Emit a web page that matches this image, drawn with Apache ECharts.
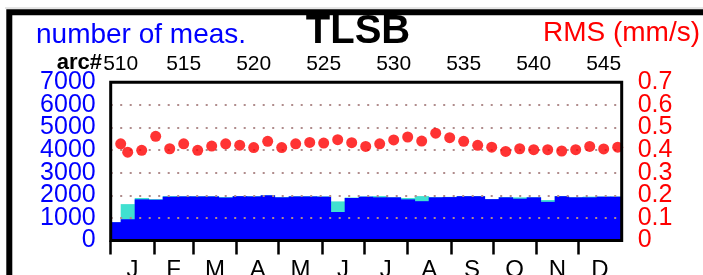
<!DOCTYPE html>
<html>
<head>
<meta charset="utf-8">
<script src="https://cdn.jsdelivr.net/npm/echarts@6/dist/echarts.min.js"></script>
<style>
html, body { margin: 0; padding: 0; background: #fff; }
#chart { width: 703px; height: 275px; }
</style>
</head>
<body>
<div id="chart"></div>
<script>
// arcs (top axis) and number of measurements per arc
var barArcs = [510, 511, 512, 513, 514, 515, 516, 517, 518, 519,
               520, 521, 522, 523, 524, 525, 526, 527, 528, 529,
               530, 531, 532, 533, 534, 535, 536, 537, 538, 539,
               540, 541, 542, 543, 544, 545, 546];
var measTotal = [810, 1610, 1880, 1830, 1965, 1960, 1960, 1960, 1920, 1970,
                 1960, 2005, 1920, 1960, 1960, 1950, 1730, 1900, 1950, 1965,
                 1915, 1880, 1965, 1920, 1930, 1965, 1965, 1835, 1920, 1910,
                 1915, 1790, 1965, 1915, 1940, 1945, 1945];
var measUsed = [810, 940, 1820, 1805, 1940, 1950, 1950, 1950, 1900, 1960,
                1950, 2000, 1910, 1950, 1950, 1940, 1260, 1880, 1940, 1910,
                1910, 1820, 1740, 1910, 1920, 1960, 1960, 1830, 1910, 1850,
                1910, 1710, 1960, 1910, 1910, 1940, 1940];

// RMS (mm/s) per arc
var rmsArcs = [510.5, 511, 512, 513, 514, 515, 516, 517, 518, 519,
               520, 521, 522, 523, 524, 525, 526, 527, 528, 529,
               530, 531, 532, 533, 534, 535, 536, 537, 538, 539,
               540, 541, 542, 543, 544, 545, 546];
var rmsValues = [0.428, 0.391, 0.399, 0.461, 0.406, 0.428, 0.399, 0.418, 0.428, 0.422,
                 0.411, 0.439, 0.411, 0.428, 0.434, 0.431, 0.446, 0.433, 0.416, 0.428,
                 0.445, 0.458, 0.440, 0.475, 0.455, 0.439, 0.421, 0.413, 0.394, 0.406,
                 0.402, 0.402, 0.396, 0.402, 0.416, 0.405, 0.413];

// axes
var arcTicks = [510.5, 515, 520, 525, 530, 535, 540, 545];
var countTicks = [0, 1000, 2000, 3000, 4000, 5000, 6000, 7000];
var rmsTicks = [0, 0.1, 0.2, 0.3, 0.4, 0.5, 0.6, 0.7];
var monthNames = ['J', 'F', 'M', 'A', 'M', 'J', 'J', 'A', 'S', 'O', 'N', 'D'];
var monthStart = [0, 31, 59, 90, 120, 151, 181, 212, 243, 273, 304, 334, 365];

var monthMid = [];
for (var i = 0; i < 12; i++) {
    monthMid[i] = (monthStart[i] + monthStart[i + 1]) / 2;
}

var totalData = [], usedData = [], rmsData = [];
for (var i = 0; i < barArcs.length; i++) {
    totalData.push([barArcs[i], measTotal[i]]);
    usedData.push([barArcs[i], measUsed[i]]);
}
for (var i = 0; i < rmsArcs.length; i++) {
    rmsData.push([rmsArcs[i], rmsValues[i]]);
}

// labels are tall: split each side's labels over two axes so echarts does not drop any
function evenOf(arr) { return arr.filter(function (v, k) { return k % 2 === 0; }); }
function oddOf(arr) { return arr.filter(function (v, k) { return k % 2 === 1; }); }

// one bar per arc, one arc wide, cut at the plot edges
function stepBar(color) {
    return function (params, api) {
        var p0 = api.coord([api.value(0) - 0.5, api.value(1)]);
        var p1 = api.coord([api.value(0) + 0.5, 0]);
        var rect = echarts.graphic.clipRectByRect({
            x: p0[0], y: p0[1], width: p1[0] - p0[0] + 0.4, height: p1[1] - p0[1]
        }, {
            x: params.coordSys.x, y: params.coordSys.y,
            width: params.coordSys.width, height: params.coordSys.height
        });
        return rect && { type: 'rect', shape: rect, style: { fill: color } };
    };
}

var font = 'Liberation Sans, Arial, sans-serif';

function countAxis(labels) {
    return {
        type: 'value', position: 'left', min: 0, max: 7000, interval: 1000,
        axisLine: { show: false },
        axisTick: { show: false },
        splitLine: { show: false },
        axisLabel: {
            customValues: labels,
            color: '#0000ff', fontSize: 25, fontFamily: font, margin: 15,
            showMinLabel: true, showMaxLabel: true, hideOverlap: false,
            formatter: function (v) { return String(v); }
        }
    };
}

function rmsAxis(labels, grid) {
    return {
        type: 'value', position: 'right', min: 0, max: 0.7, interval: 0.1, z: 3,
        axisLine: { show: false },
        axisTick: { show: false },
        splitLine: {
            show: grid, showMinLine: false, showMaxLine: false,
            lineStyle: { color: '#b08c8c', width: 2, type: [2, 7.5] }
        },
        axisLabel: {
            customValues: labels,
            color: '#ff0000', fontSize: 25, fontFamily: font, margin: 16,
            showMinLabel: true, showMaxLabel: true, hideOverlap: false,
            formatter: function (v) { return v === 0 ? '0' : v.toFixed(1); }
        }
    };
}

var chart = echarts.init(document.getElementById('chart'));

var option = {
    animation: false,
    backgroundColor: '#fff',
    grid: {
        left: 110.7, right: 81.3, top: 82.3, bottom: 34.5,
        outerBoundsMode: 'none', containLabel: false,
        show: true, borderColor: '#000', borderWidth: 3,
        backgroundColor: 'transparent', z: 10
    },
    xAxis: [
        {
            type: 'value', position: 'bottom', min: 0, max: 365,
            axisLine: { show: false },
            splitLine: { show: false },
            axisTick: {
                show: true, customValues: monthStart.slice(0, 12), length: 14,
                lineStyle: { color: '#000', width: 2.5 }
            },
            axisLabel: {
                customValues: monthMid, color: '#000', fontSize: 24,
                fontFamily: font, margin: 18,
                formatter: function (v) {
                    for (var k = 0; k < monthMid.length; k++) {
                        if (Math.abs(monthMid[k] - v) < 0.01) return monthNames[k];
                    }
                    return '';
                }
            }
        },
        {
            type: 'value', position: 'top', min: 509.786, max: 546.286,
            axisLine: { show: false },
            splitLine: { show: false },
            axisTick: {
                show: true, customValues: arcTicks, length: 12,
                lineStyle: { color: '#000', width: 2 }
            },
            axisLabel: {
                customValues: arcTicks, color: '#000', fontSize: 21,
                fontFamily: font, margin: 8,
                formatter: function (v) { return String(Math.floor(v)); }
            }
        }
    ],
    yAxis: [
        countAxis(evenOf(countTicks)),
        rmsAxis(evenOf(rmsTicks), true),
        countAxis(oddOf(countTicks)),
        rmsAxis(oddOf(rmsTicks), false)
    ],
    graphic: [
        {
            type: 'line', silent: true,
            shape: { x1: 5, y1: 8, x2: 703, y2: 8 },
            style: { stroke: '#cccccc', lineWidth: 1 }
        },
        {
            type: 'rect', silent: true, z: 100,
            shape: { x: 9.3, y: 12.3, width: 900, height: 400 },
            style: { fill: 'none', stroke: '#000', lineWidth: 6 }
        },
        {
            type: 'text', x: 36, y: 35,
            style: {
                text: 'number of meas.', fill: '#0000ff', font: '28px ' + font,
                textAlign: 'left', textVerticalAlign: 'middle', align: 'left', verticalAlign: 'middle'
            }
        },
        {
            type: 'text', x: 358, y: 32,
            style: {
                text: 'TLSB', fill: '#000', font: 'bold 40px ' + font,
                textAlign: 'center', textVerticalAlign: 'middle', align: 'center', verticalAlign: 'middle'
            }
        },
        {
            type: 'text', x: 700, y: 33,
            style: {
                text: 'RMS (mm/s)', fill: '#ff0000', font: '28px ' + font,
                textAlign: 'right', textVerticalAlign: 'middle', align: 'right', verticalAlign: 'middle'
            }
        },
        {
            type: 'text', x: 102, y: 62.5,
            style: {
                text: 'arc#', fill: '#000', font: 'bold 22px ' + font,
                textAlign: 'right', textVerticalAlign: 'middle', align: 'right', verticalAlign: 'middle'
            }
        }
    ],
    series: [
        {
            name: 'total', type: 'custom', xAxisIndex: 1, yAxisIndex: 0, z: 2,
            renderItem: stepBar('#40e0d0'),
            encode: { x: 0, y: 1 },
            data: totalData
        },
        {
            name: 'used', type: 'custom', xAxisIndex: 1, yAxisIndex: 0, z: 2,
            renderItem: stepBar('#0000ff'),
            encode: { x: 0, y: 1 },
            data: usedData
        },
        {
            name: 'RMS', type: 'scatter', xAxisIndex: 1, yAxisIndex: 1, z: 4,
            symbolSize: 11,
            itemStyle: { color: '#ff0000' },
            data: rmsData
        }
    ]
};

chart.setOption(option);
</script>
</body>
</html>
